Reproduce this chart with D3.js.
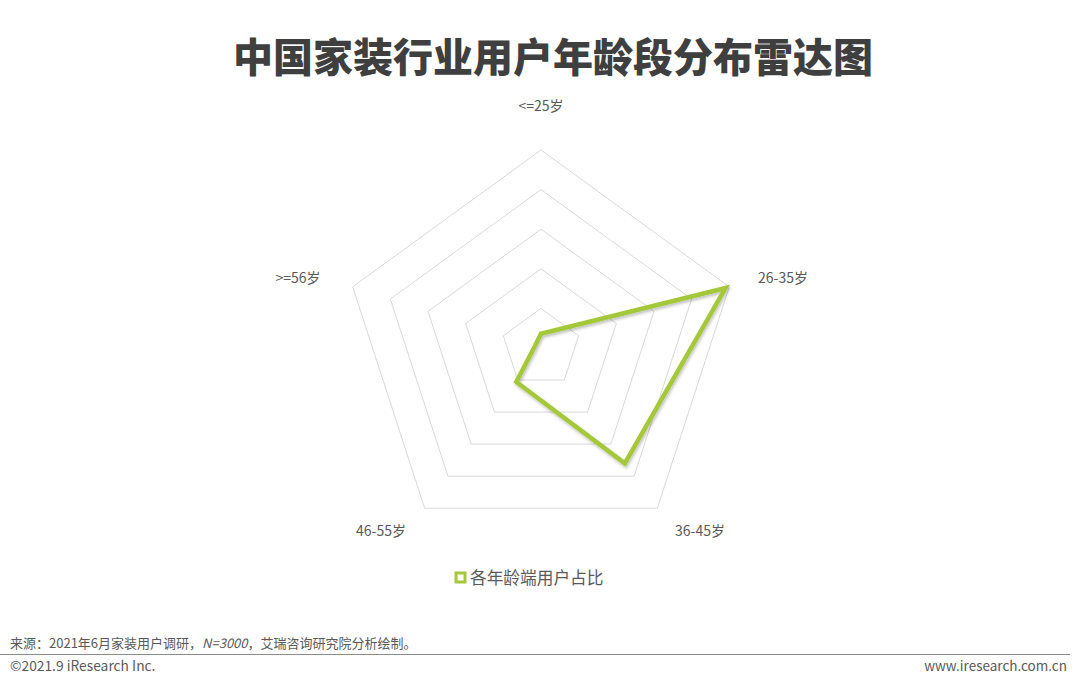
<!DOCTYPE html>
<html><head><meta charset="utf-8">
<script src="https://cdn.jsdelivr.net/npm/d3@7/dist/d3.min.js"></script>
<style>body{margin:0;background:#fff;}svg{display:block;font-family:"Microsoft YaHei","Noto Sans CJK SC","Noto Sans",sans-serif;}</style>
</head><body>
<svg id="c" width="1080" height="688"></svg>
<script>
const categories = ["<=25岁", "26-35岁", "36-45岁", "46-55岁", ">=56岁"];
const values = [3.6, 49.0, 36.0, 10.6, 1.6];
const gridTicks = [10, 20, 30, 40, 50];
const seriesName = "各年龄端用户占比";
const titleText = "中国家装行业用户年龄段分布雷达图";
const sourceText = "来源：2021年6月家装用户调研，";
const sourceN = "N=3000";
const sourceTail = "，艾瑞咨询研究院分析绘制。";

const svg = d3.select("#c");
const cx = 541, cy = 348, R = 198;
const green = "#a5c83a";
const r = d3.scaleLinear().domain([0, 50]).range([0, R]);
const angle = d3.scaleLinear().domain([0, categories.length]).range([0, 2 * Math.PI]);
const pt = (i, v) => [cx + r(v) * Math.sin(angle(i)), cy - r(v) * Math.cos(angle(i))];

svg.append("text").attr("x", 553).attr("y", 72).attr("text-anchor", "middle")
  .attr("font-size", 40).attr("font-weight", 900).attr("fill", "#3f3f3f").text(titleText);

const defs = svg.append("defs");
const f = defs.append("filter").attr("id", "sh").attr("x", "-20%").attr("y", "-20%").attr("width", "140%").attr("height", "140%");
f.append("feDropShadow").attr("dx", 1).attr("dy", 2).attr("stdDeviation", 1.5).attr("flood-color", "#000").attr("flood-opacity", 0.25);

const line = d3.line().curve(d3.curveLinearClosed);
gridTicks.forEach(t => {
  svg.append("path").attr("d", line(categories.map((c, i) => pt(i, t))))
    .attr("fill", "none").attr("stroke", "#d9d9d9").attr("stroke-width", 1);
});

const labelPos = [[541, 111], [783, 283], [700, 536], [381, 536], [298, 283]];
categories.forEach((c, i) => {
  svg.append("text").attr("x", labelPos[i][0]).attr("y", labelPos[i][1]).attr("text-anchor", "middle")
    .attr("font-size", 14).attr("fill", "#595959").text(c);
});

svg.append("path").attr("d", line(values.map((v, i) => pt(i, v))))
  .attr("fill", "none").attr("stroke", green).attr("stroke-width", 4.5)
  .attr("stroke-linejoin", "miter").attr("filter", "url(#sh)");

// legend
svg.append("rect").attr("x", 456).attr("y", 573).attr("width", 9).attr("height", 9)
  .attr("fill", "#fff").attr("stroke", green).attr("stroke-width", 3);
svg.append("text").attr("x", 470).attr("y", 584).attr("font-size", 16.7).attr("fill", "#595959").text(seriesName);

// footer
const st = svg.append("text").attr("x", 10).attr("y", 648).attr("font-size", 13).attr("fill", "#595959");
st.append("tspan").text(sourceText);
st.append("tspan").attr("font-style", "italic").text(sourceN);
st.append("tspan").text(sourceTail);
svg.append("line").attr("x1", 0).attr("x2", 1070).attr("y1", 654.5).attr("y2", 654.5).attr("stroke", "#8c8c8c").attr("stroke-width", 1);
svg.append("text").attr("x", 10).attr("y", 671).attr("font-size", 13.8).attr("fill", "#595959").text("©2021.9 iResearch Inc.");
svg.append("text").attr("x", 1067).attr("y", 671).attr("text-anchor", "end").attr("font-size", 13.5).attr("fill", "#595959").text("www.iresearch.com.cn");
</script>
</body></html>
